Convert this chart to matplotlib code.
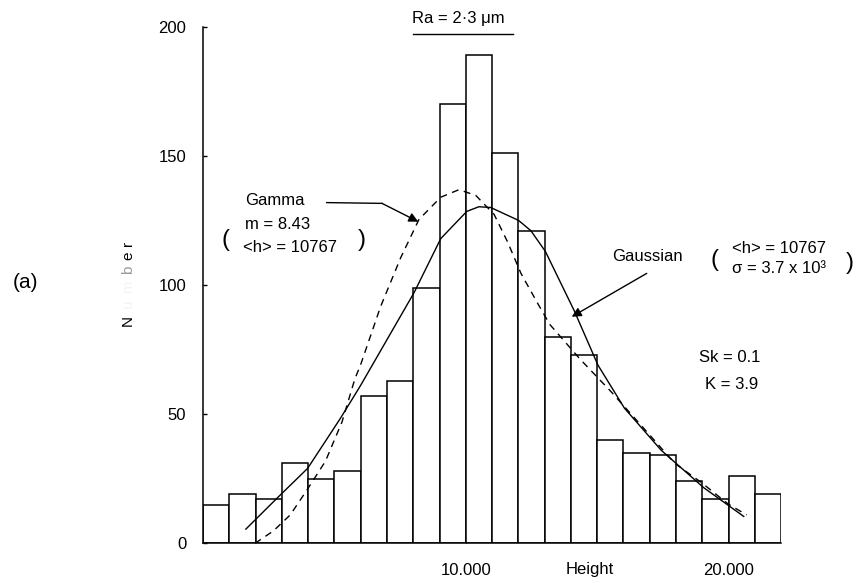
import matplotlib
matplotlib.use("Agg")
import matplotlib.pyplot as plt

plt.rcParams['font.family'] = ['Liberation Sans', 'DejaVu Sans']

# height histogram, one bin every 1000 units
bin_left = list(range(0, 22000, 1000))
counts = [15, 19, 17, 31, 25, 28, 57, 63, 99, 170, 189, 151,
          121, 80, 73, 40, 35, 34, 24, 17, 26, 19]

# Gaussian fit (solid)
gauss_h = [1630, 2870, 3980, 5230, 5990, 7010, 8030, 9050, 10040, 10500,
           10950, 12010, 12480, 13030, 14130, 15030, 16040, 17440, 19060, 20580]
gauss_n = [5.5, 18, 29, 48.4, 61, 79, 97, 118, 128.5, 130.3,
           130, 125, 121, 113, 90, 69, 52.3, 36, 21.5, 10.4]

# Gamma fit (dashed)
gamma_h = [1980, 2680, 3320, 3960, 4660, 5290, 5780, 5990, 6760, 7520,
           8220, 9050, 9740, 10380, 11080, 11590, 12100, 12730, 13200,
           14350, 15530, 16680, 17950, 18970, 19990, 20690]
gamma_n = [0, 4.8, 11, 20.7, 31.8, 47, 63.7, 68.9, 91.7, 110.5,
           125.4, 134, 136.9, 134.7, 127.3, 116.7, 104.5, 93, 84.7,
           71.3, 58.7, 45.6, 31, 23.5, 15.2, 11]

y_ticks = [0, 50, 100, 150, 200]
x_ticks = [10000, 20000]
x_tick_labels = ['10.000', '20.000']

fig = plt.figure(figsize=(8.64, 5.83), dpi=100)
ax = fig.add_axes([0.2350, 0.0681, 0.6690, 0.8861])

ax.bar(bin_left, counts, width=1000, align='edge', color='white',
       edgecolor='black', linewidth=1.1, zorder=2)
ax.plot(gauss_h, gauss_n, color='black', lw=1.0, zorder=3)
ax.plot(gamma_h, gamma_n, color='black', lw=1.0, ls=(0, (5, 4)), zorder=3,
        clip_on=False)

ax.set_xlim(0, 22000)
ax.set_ylim(0, 200)
for s in ['top', 'right']:
    ax.spines[s].set_visible(False)
for s in ['left', 'bottom']:
    ax.spines[s].set_linewidth(1.1)

ax.set_yticks(y_ticks)
ax.set_xticks(x_ticks)
ax.set_xticklabels(x_tick_labels)
ax.tick_params(axis='y', direction='in', length=3, width=1, pad=12, labelsize=12)
ax.tick_params(axis='x', direction='in', length=3, width=1, pad=14, labelsize=12)

fs = 12
ax.text(14700, -10, 'Height', fontsize=fs, ha='center', va='center', clip_on=False)

# axis label "Number", letters spaced out, middle ones worn away
letters = [('N', 320, 'black'), ('u', 304, '#f4f4f4'), ('m', 287, '#f4f4f4'),
           ('b', 270, '#9a9a9a'), ('e', 256, 'black'), ('r', 243, 'black')]
for ch, ypix, col in letters:
    fig.text(128 / 864, 1 - ypix / 583, ch, rotation=90, fontsize=11,
             ha='center', va='center', color=col)

fig.text(13 / 864, 1 - 282 / 583, '(a)', fontsize=15, ha='left', va='center')

# Ra label with bar underneath
ax.text(7943, 203, 'Ra = 2·3 μm', fontsize=fs, ha='left', va='center', clip_on=False)
ax.plot([7993, 11799], [197.1, 197.1], color='black', lw=1.0, clip_on=False)

# Gamma annotation
ax.text(1600, 132.9, 'Gamma', fontsize=fs, ha='left', va='center')
ax.text(1600, 123.6, 'm = 8.43', fontsize=fs, ha='left', va='center')
ax.text(1520, 114.7, '<h> = 10767', fontsize=fs, ha='left', va='center')
ax.text(840, 117.4, '(', fontsize=17, ha='center', va='center')
ax.text(6050, 117.4, ')', fontsize=17, ha='center', va='center')
ax.plot([4708, 6813], [131.9, 131.6], color='black', lw=1.0)
ax.annotate('', xy=(8194, 124.5), xytext=(6813, 131.6),
            arrowprops=dict(arrowstyle='-|>', color='black', lw=1.0,
                            mutation_scale=14, shrinkA=0, shrinkB=0))

# Gaussian annotation
ax.text(15555, 111.0, 'Gaussian', fontsize=fs, ha='left', va='center')
ax.annotate('', xy=(14033, 87.7), xytext=(16887, 104.5),
            arrowprops=dict(arrowstyle='-|>', color='black', lw=1.0,
                            mutation_scale=14, shrinkA=0, shrinkB=0))
ax.text(19450, 109.7, '(', fontsize=17, ha='center', va='center', clip_on=False)
ax.text(20120, 114.2, '<h> = 10767', fontsize=fs, ha='left', va='center', clip_on=False)
ax.text(20120, 106.5, 'σ = 3.7 x 10³', fontsize=fs, ha='left', va='center', clip_on=False)
ax.text(24625, 108.5, ')', fontsize=17, ha='center', va='center', clip_on=False)

ax.text(18880, 72.1, 'Sk = 0.1', fontsize=fs, ha='left', va='center', clip_on=False)
ax.text(19100, 61.3, 'K = 3.9', fontsize=fs, ha='left', va='center', clip_on=False)

fig.savefig('out.png', dpi=100)
